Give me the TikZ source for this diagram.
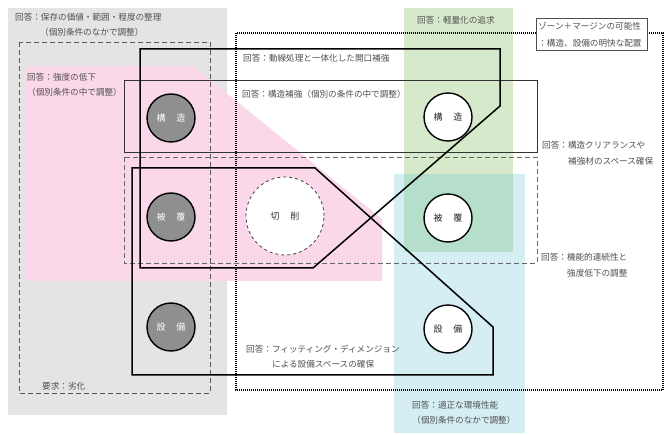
\documentclass[tikz,border=0pt]{standalone}
\usepackage{fontspec}
\newfontfamily\jp{Noto Sans CJK JP}
\definecolor{bggrey}{HTML}{E4E4E4}
\definecolor{bgpink}{HTML}{FAD7E9}
\definecolor{bggreen}{HTML}{D6EACB}
\definecolor{bgcyan}{HTML}{D5EEF3}
\definecolor{bgmix}{HTML}{B5DFCA}
\definecolor{circgrey}{HTML}{8F8F8F}
\definecolor{txtgrey}{HTML}{505050}
\tikzset{
  lbl/.style={anchor=west,inner sep=0pt,font=\jp\fontsize{8.6}{10}\selectfont,text=txtgrey},
  greycirc/.style={circle,draw=black,line width=1.4pt,fill=circgrey,minimum size=48pt,inner sep=0pt,font=\jp\fontsize{9}{10}\selectfont,text=white},
  whitecirc/.style={circle,draw=black,line width=1.4pt,fill=white,minimum size=48pt,inner sep=0pt,font=\jp\fontsize{9}{10}\selectfont,text=black!85},
  cutcirc/.style={circle,draw=black!75,dashed,line width=0.8pt,fill=white,minimum size=78pt,inner sep=0pt,font=\jp\fontsize{9}{10}\selectfont,text=black!80},
  thickshape/.style={draw=black,line width=1.5pt,line join=miter},
  thinshape/.style={draw=black!80,line width=0.8pt},
  dashshape/.style={draw=black!60,line width=0.9pt,dash pattern=on 5pt off 3pt},
  dotshape/.style={draw=black,line width=1.3pt,dash pattern=on 1pt off 1pt},
  boxlbl/.style={draw=black!70,line width=0.7pt,fill=white,anchor=north west,inner sep=2pt,align=left,font=\jp\fontsize{8.6}{17}\selectfont,text=txtgrey,text width=107pt,minimum height=32pt}
}
\begin{document}
\begin{tikzpicture}[x=1pt,y=-1pt]
\useasboundingbox (0,0) rectangle (672,435);
\fill[white] (0,0) rectangle (672,435);
% backgrounds
\fill[bggrey] (8,8) rectangle (227,415);
\fill[bgpink] (25,66) -- (193,66) -- (382,219) -- (382,281) -- (25,281) -- cycle;
\fill[bgcyan] (394,174) rectangle (525,433);
\fill[bggreen] (404,8) rectangle (513,252);
\fill[bgmix] (404,174) rectangle (513,252);
% grey dashed requirement rect
\draw[dashshape,draw=black!65] (19,42) rectangle (210,393);
% dotted zone rect
\draw[dotshape] (536,33) -- (236,33) -- (236,390) -- (663,390) -- (663,33) -- (648,33);
% thin rect: structure reinforcement
\draw[thinshape] (124,80) rectangle (537,152);
% dashed rect: clearance
\draw[dashshape] (124,157) rectangle (537,263);
% circles
\node[cutcirc] (cut) at (285,216) {切\hspace{1.2em}削};
% thick shapes
\draw[thickshape] (140,49) -- (500,49) -- (500,106) -- (313,268) -- (140,268) -- cycle;
\draw[thickshape] (132,168) -- (315,168) -- (493,327) -- (493,375) -- (132,375) -- cycle;
% grey circles
\node[greycirc] (gs) at (171,118) {構\hspace{1.2em}造};
\node[greycirc] (gh) at (171,217) {被\hspace{1.2em}覆};
\node[greycirc] (ge) at (171,327) {設\hspace{1.2em}備};
% white circles
\node[whitecirc] (ws) at (448,117) {構\hspace{1.2em}造};
\node[whitecirc] (wh) at (448,218) {被\hspace{1.2em}覆};
\node[whitecirc] (we) at (448,329) {設\hspace{1.2em}備};
% labels
\node[lbl] (t1) at (15,17) {回答：保存の価値・範囲・程度の整理};
\node[lbl] (t1b) at (40,32) {（個別条件のなかで調整）};
\node[lbl] (t2) at (27,77) {回答：強度の低下};
\node[lbl] (t2b) at (27,92) {（個別条件の中で調整）};
\node[lbl] (t3) at (243,58) {回答：動線処理と一体化した開口補強};
\node[lbl] (t4) at (242,94) {回答：構造補強（個別の条件の中で調整）};
\node[lbl] (t5) at (417,20) {回答：軽量化の追求};
\node[boxlbl] (zone) at (536,18) {ゾーン＋マージンの可能性\\：構造、設備の明快な配置};
\node[lbl] (t6) at (542,145) {回答：構造クリアランスや};
\node[lbl] (t6b) at (568,161) {補強材のスペース確保};
\node[lbl] (t7) at (541,257) {回答：機能的連続性と};
\node[lbl] (t7b) at (567,273) {強度低下の調整};
\node[lbl] (t8) at (246,349) {回答：フィッティング・ディメンジョン};
\node[lbl] (t8b) at (272,364) {による設備スペースの確保};
\node[lbl] (t9) at (412,405) {回答：適正な環境性能};
\node[lbl] (t9b) at (412,420) {（個別条件のなかで調整）};
\node[lbl] (t10) at (42,386) {要求：劣化};
\end{tikzpicture}
\end{document}
